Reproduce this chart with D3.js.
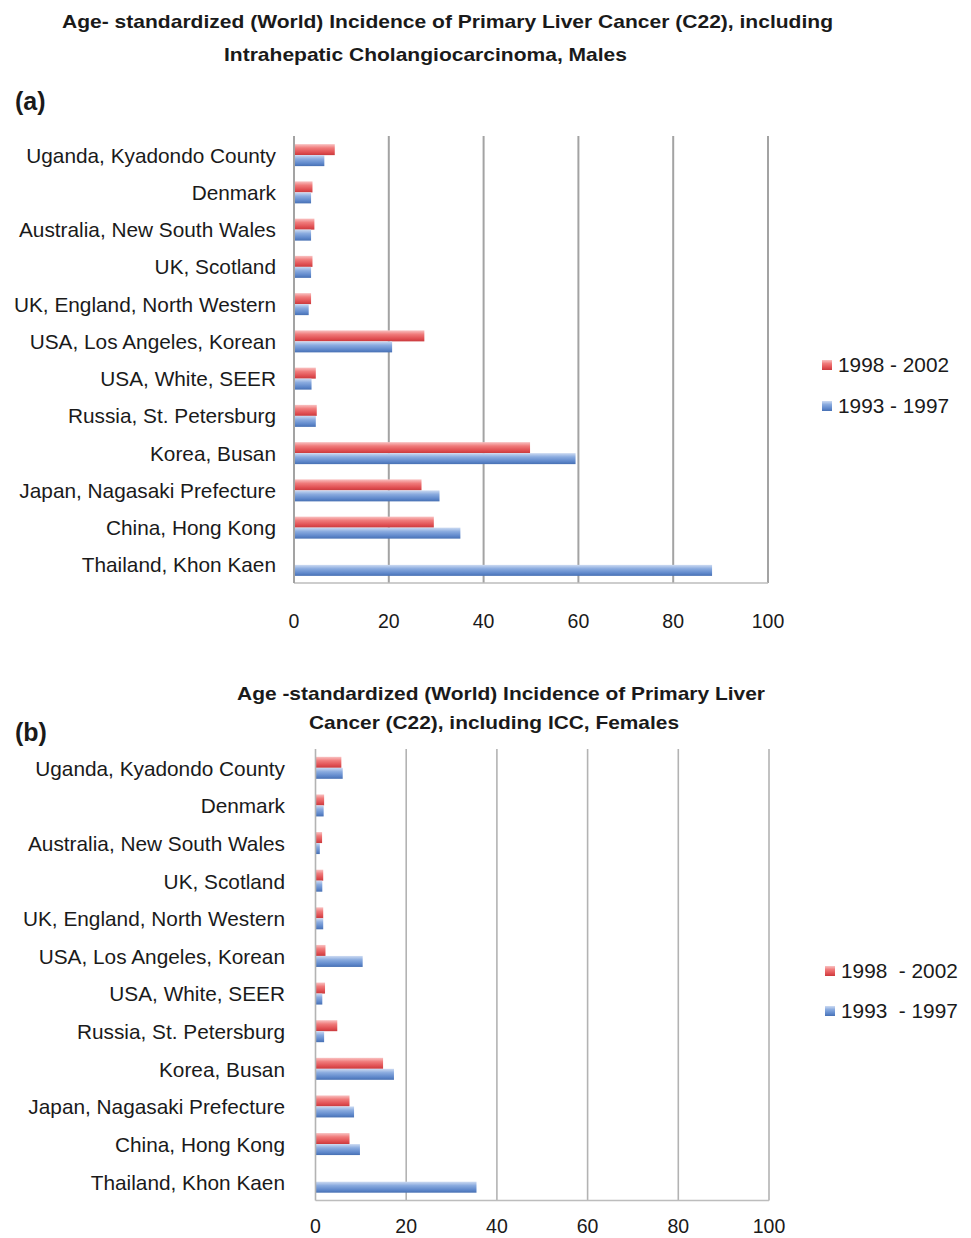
<!DOCTYPE html>
<html>
<head>
<meta charset="utf-8">
<script src="https://cdn.jsdelivr.net/npm/d3@7"></script>
<style>
  html, body { margin: 0; padding: 0; background: #fff; }
  svg { display: block; }
  text { font-family: "Liberation Sans", Arial, Helvetica, sans-serif; fill: #1a1a1a; }
  .title { font-family: "Liberation Sans Narrow", "Liberation Sans", Arial, sans-serif; font-weight: bold; font-size: 19px; }
  .panel { font-weight: bold; font-size: 25px; }
  .cat { font-size: 20.8px; }
  .tick { font-size: 19.5px; }
  .leg { font-size: 20.8px; white-space: pre; }
</style>
</head>
<body>
<svg id="chart" width="971" height="1238"></svg>
<script>
// Registry areas, top to bottom
const categories = [
  "Uganda, Kyadondo County",
  "Denmark",
  "Australia, New South Wales",
  "UK, Scotland",
  "UK, England, North Western",
  "USA, Los Angeles, Korean",
  "USA, White, SEER",
  "Russia, St. Petersburg",
  "Korea, Busan",
  "Japan, Nagasaki Prefecture",
  "China, Hong Kong",
  "Thailand, Khon Kaen"
];

// Age-standardized incidence per 100,000, males
const males1998_2002 = [8.6, 3.9, 4.3, 3.9, 3.6, 27.5, 4.6, 4.8, 49.8, 26.9, 29.5, null];
const males1993_1997 = [6.4, 3.6, 3.6, 3.6, 3.1, 20.7, 3.7, 4.6, 59.4, 30.7, 35.1, 88.2];

// Age-standardized incidence per 100,000, females
const females1998_2002 = [5.7, 1.9, 1.45, 1.7, 1.7, 2.2, 2.1, 4.8, 14.9, 7.5, 7.5, null];
const females1993_1997 = [6.0, 1.8, 0.95, 1.5, 1.7, 10.4, 1.5, 1.9, 17.3, 8.5, 9.8, 35.5];

const xTicks = [0, 20, 40, 60, 80, 100];
const seriesNames = ["1998 - 2002", "1993 - 1997"];
const seriesNamesB = ["1998  - 2002", "1993  - 1997"];

const svg = d3.select("#chart");
const defs = svg.append("defs");

function gradient(id, stops) {
  const g = defs.append("linearGradient").attr("id", id)
    .attr("x1", 0).attr("y1", 0).attr("x2", 0).attr("y2", 1);
  stops.forEach(([o, c]) => g.append("stop").attr("offset", o).attr("stop-color", c));
}
gradient("gRed", [[0, "#f9c2c2"], [0.35, "#f07b7b"], [0.75, "#e04f52"], [1, "#c93a3d"]]);
gradient("gBlue", [[0, "#cddbf2"], [0.35, "#8aabdf"], [0.75, "#5f88cb"], [1, "#4770b3"]]);

function drawPanel(cfg) {
  const g = svg.append("g");
  const x = d3.scaleLinear().domain([0, 100]).range([cfg.x0, cfg.x1]);
  const y = d3.scaleBand().domain(categories).range([cfg.yTop, cfg.yBot]);

  // Vertical gridlines
  g.selectAll("line.grid").data(xTicks.slice(1)).join("line")
    .attr("x1", d => x(d)).attr("x2", d => x(d))
    .attr("y1", cfg.yTop).attr("y2", cfg.yBot)
    .attr("stroke", cfg.gridColor).attr("stroke-width", cfg.gridWidth);

  // Bottom axis line
  g.append("line")
    .attr("x1", x(0)).attr("x2", x(100))
    .attr("y1", cfg.yBot).attr("y2", cfg.yBot)
    .attr("stroke", "#bdbdbd").attr("stroke-width", 1.5);

  // Bars
  const barH = 11;
  const rows = categories.map((c, i) => ({ c, a: cfg.seriesA[i], b: cfg.seriesB[i] }));
  const top = d => y(d.c) + (y.bandwidth() - 2 * barH) / 2 + cfg.shift;
  g.selectAll("rect.a").data(rows.filter(d => d.a != null)).join("rect")
    .attr("x", x(0)).attr("y", d => top(d))
    .attr("width", d => x(d.a) - x(0)).attr("height", barH)
    .attr("fill", "url(#gRed)");
  g.selectAll("rect.b").data(rows.filter(d => d.b != null)).join("rect")
    .attr("x", x(0)).attr("y", d => top(d) + barH)
    .attr("width", d => x(d.b) - x(0)).attr("height", barH)
    .attr("fill", "url(#gBlue)");

  // Left axis line
  g.append("line")
    .attr("x1", x(0)).attr("x2", x(0))
    .attr("y1", cfg.yTop).attr("y2", cfg.yBot)
    .attr("stroke", cfg.gridColor).attr("stroke-width", cfg.gridWidth);

  // Category labels
  g.selectAll("text.cat").data(categories).join("text")
    .attr("class", "cat")
    .attr("x", cfg.labelX)
    .attr("y", d => y(d) + y.bandwidth() / 2)
    .attr("dy", "0.38em")
    .attr("text-anchor", "end")
    .text(d => d);

  // Tick labels
  g.selectAll("text.tick").data(xTicks).join("text")
    .attr("class", "tick")
    .attr("x", d => x(d))
    .attr("y", cfg.tickY)
    .attr("text-anchor", "middle")
    .text(d => d);

  // Legend
  const legend = [
    { name: cfg.names[0], fill: "url(#gRed)", y: cfg.legY[0] },
    { name: cfg.names[1], fill: "url(#gBlue)", y: cfg.legY[1] }
  ];
  legend.forEach(l => {
    g.append("rect").attr("x", cfg.legX).attr("y", l.y - 12)
      .attr("width", 10).attr("height", 10).attr("fill", l.fill);
    g.append("text").attr("class", "leg").attr("x", cfg.legX + 16).attr("y", l.y)
      .attr("xml:space", "preserve").text(l.name);
  });

  // Titles
  cfg.titles.forEach(t => {
    g.append("text").attr("class", "title")
      .attr("x", t.x).attr("y", t.y)
      .attr("textLength", t.w).attr("lengthAdjust", "spacingAndGlyphs")
      .text(t.text);
  });
  g.append("text").attr("class", "panel")
    .attr("x", 15).attr("y", cfg.panelY).text(cfg.panel);
}

drawPanel({
  x0: 294, x1: 768, yTop: 136, yBot: 583, shift: 0.5,
  gridColor: "#a3a3a3", gridWidth: 2,
  seriesA: males1998_2002, seriesB: males1993_1997,
  labelX: 276, tickY: 628,
  legX: 822, legY: [372, 413], names: seriesNames,
  titles: [
    { text: "Age- standardized (World) Incidence of Primary Liver Cancer (C22), including", x: 62, y: 28, w: 771 },
    { text: "Intrahepatic Cholangiocarcinoma, Males", x: 224, y: 61, w: 403 }
  ],
  panel: "(a)", panelY: 110
});

drawPanel({
  x0: 315.5, x1: 769, yTop: 749, yBot: 1200.5, shift: 0,
  gridColor: "#b3b3b3", gridWidth: 1.6,
  seriesA: females1998_2002, seriesB: females1993_1997,
  labelX: 285, tickY: 1233,
  legX: 825, legY: [978, 1018], names: seriesNamesB,
  titles: [
    { text: "Age -standardized (World) Incidence of Primary Liver", x: 237, y: 700, w: 528 },
    { text: "Cancer (C22), including ICC, Females", x: 309, y: 729, w: 370 }
  ],
  panel: "(b)", panelY: 741
});
</script>
</body>
</html>
